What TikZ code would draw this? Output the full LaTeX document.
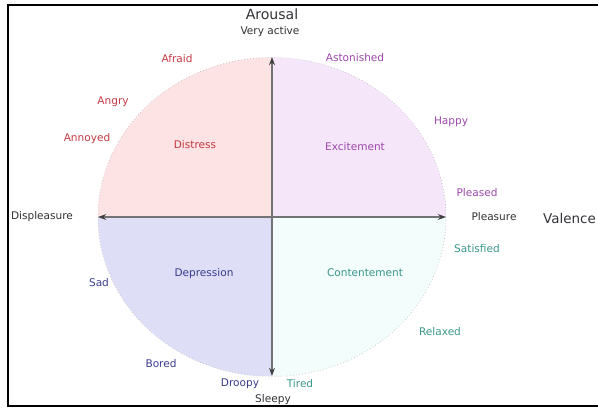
\documentclass[tikz,border=0pt]{standalone}
\usepackage{fontspec}
\setmainfont{DejaVu Sans}
\usetikzlibrary{arrows.meta}

\definecolor{distfill}{RGB}{253,227,228}
\definecolor{excfill}{RGB}{245,230,250}
\definecolor{depfill}{RGB}{222,223,246}
\definecolor{confill}{RGB}{242,253,252}
\definecolor{distred}{RGB}{196,58,68}
\definecolor{excpurple}{RGB}{158,72,172}
\definecolor{depblue}{RGB}{58,60,140}
\definecolor{conteal}{RGB}{58,150,138}
\definecolor{axgray}{RGB}{50,50,55}

\begin{document}
\begin{tikzpicture}[x=0.03cm, y=-0.03cm,
    emo/.style={font=\fontsize{9}{10}\selectfont, inner sep=0pt},
    axlbl/.style={font=\fontsize{9}{10}\selectfont, inner sep=0pt, text=axgray},
    axtitle/.style={font=\fontsize{12}{13}\selectfont, inner sep=0pt, text=axgray},
    axarr/.style={{Stealth[length=7pt,width=5pt,color=black!75]}-{Stealth[length=7pt,width=5pt,color=black!75]}, draw=black!55, line width=0.9pt},
    ring/.style={x radius=5.22cm, y radius=4.785cm}
]
\useasboundingbox (0,0) rectangle (598,407);

% frame
\draw[line width=1.4pt] (598,5) -- (8,5) -- (8,406) -- (598,406);

% axis ends
\coordinate (c) at (272,217);
\coordinate (west) at (98,217);
\coordinate (east) at (446,217);
\coordinate (north) at (272,57);
\coordinate (south) at (272,376);

% quadrants
\begin{scope}
  \clip (c) ellipse[ring];
  \fill[distfill] (west |- north) rectangle (c);
  \fill[excfill] (east |- north) rectangle (c);
  \fill[depfill] (west |- south) rectangle (c);
  \fill[confill] (east |- south) rectangle (c);
\end{scope}
\draw[black!25, dotted, line width=0.6pt] (c) ellipse[ring];

% axes
\draw[axarr] (west) -- (east);
\draw[axarr] (south) -- (north);

% axis labels
\node[axtitle] (arousal) at (272,14) {Arousal};
\node[axlbl] (active) at (270,32) {Very active};
\node[axlbl] (sleepy) at (273,400) {Sleepy};
\node[axlbl] (displeasure) at (42,217) {Displeasure};
\node[axlbl] (pleasure) at (494,217) {Pleasure};
\node[axtitle, font=\fontsize{11.5}{13}\selectfont, anchor=east] (valence) at (596,218) {Valence};

% distress
\node[emo, text=distred] (afraid) at (177,59) {Afraid};
\node[emo, text=distred] (angry) at (113,102) {Angry};
\node[emo, text=distred] (annoyed) at (87,139) {Annoyed};
\node[emo, text=distred] (distress) at (195,145) {Distress};

% excitement
\node[emo, text=excpurple] (astonished) at (355,58) {Astonished};
\node[emo, text=excpurple] (happy) at (451,122) {Happy};
\node[emo, text=excpurple] (excitement) at (355,147) {Excitement};
\node[emo, text=excpurple] (pleased) at (477,193) {Pleased};

% depression
\node[emo, text=depblue] (sad) at (99,283) {Sad};
\node[emo, text=depblue] (depression) at (204,274) {Depression};
\node[emo, text=depblue] (bored) at (161,364) {Bored};
\node[emo, text=depblue] (droopy) at (240,384) {Droopy};

% contentement
\node[emo, text=conteal] (satisfied) at (477,249) {Satisfied};
\node[emo, text=conteal] (contentement) at (365,273) {Contentement};
\node[emo, text=conteal] (relaxed) at (440,332) {Relaxed};
\node[emo, text=conteal] (tired) at (300,384) {Tired};

\end{tikzpicture}
\end{document}
